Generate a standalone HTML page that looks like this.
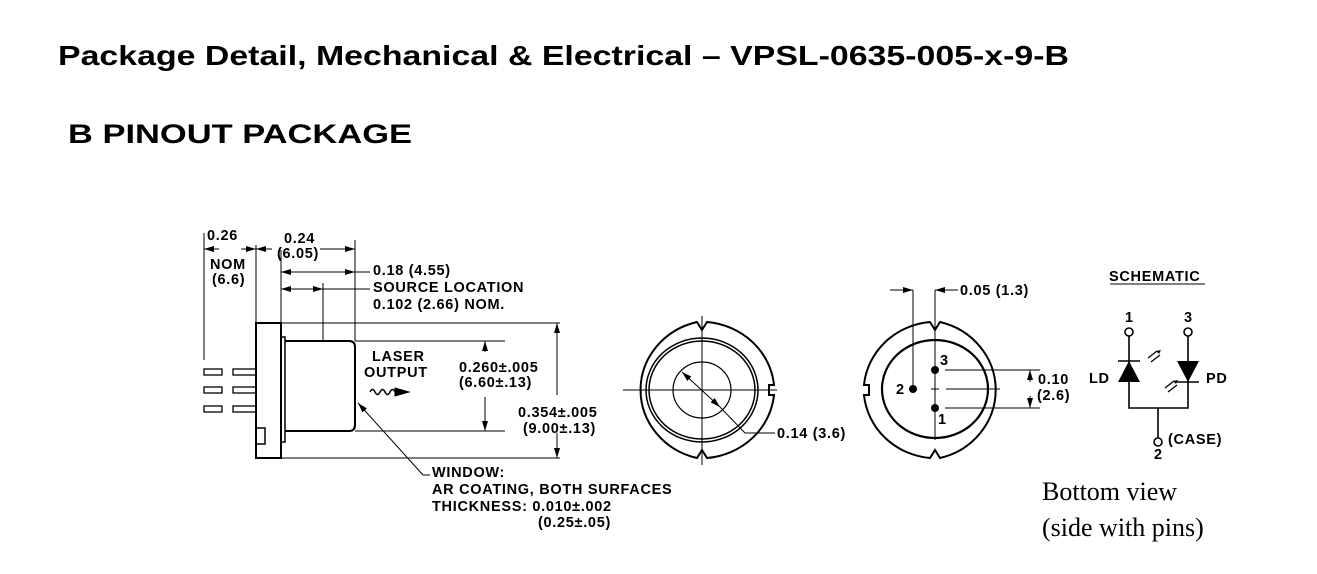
<!DOCTYPE html>
<html><head><meta charset="utf-8"><style>
html,body{margin:0;padding:0;background:#fff;}
svg{display:block;}
text{font-family:"Liberation Sans",Arial,sans-serif;font-weight:bold;fill:#000;}
</style></head><body>
<svg width="1317" height="574" viewBox="0 0 1317 574" xmlns="http://www.w3.org/2000/svg">
<defs>
<marker id="a" viewBox="0 0 10 6" refX="10" refY="3" markerWidth="10" markerHeight="6" orient="auto-start-reverse" markerUnits="userSpaceOnUse"><path d="M0,0 L10,3 L0,6 z" fill="#000"/></marker>
</defs>
<text x="58" y="65" font-size="28" textLength="1011" lengthAdjust="spacingAndGlyphs">Package Detail, Mechanical &amp; Electrical – VPSL-0635-005-x-9-B</text>
<text x="68" y="143" font-size="27" textLength="344" lengthAdjust="spacingAndGlyphs">B  PINOUT PACKAGE</text>

<g stroke="#000" fill="none" stroke-width="1">
<!-- side view -->
<rect x="256" y="323" width="25" height="135" stroke-width="2"/>
<rect x="281" y="337" width="4" height="105" stroke-width="1.5"/>
<path d="M285,341 H349 Q355,341 355,347 V425 Q355,431 349,431 H285" stroke-width="2"/>
<rect x="256" y="428" width="9" height="16" stroke-width="1.5"/>
<g stroke-width="1.3">
<rect x="204" y="369" width="18" height="6"/><rect x="233" y="369" width="23" height="6"/>
<rect x="204" y="387" width="18" height="6"/><rect x="233" y="387" width="23" height="6"/>
<rect x="204" y="406" width="18" height="6"/><rect x="233" y="406" width="23" height="6"/>
</g>
<path d="M204,233 V360 M256,245 V323 M281,250 V323 M323,283 V341 M355,240 V341"/>
<path d="M241,249 H256" marker-end="url(#a)"/>
<path d="M219,249 H204" marker-end="url(#a)"/>
<path d="M256,249 H272" marker-start="url(#a)"/>
<path d="M320,249 H355" marker-end="url(#a)"/>
<path d="M281,272 H355" marker-start="url(#a)" marker-end="url(#a)"/>
<path d="M355,272 H370"/>
<path d="M281,289 H323" marker-start="url(#a)" marker-end="url(#a)"/>
<path d="M323,289 H370"/>
<path d="M281,323 H560 M281,458 H560 M355,341 H505 M355,431 H505"/>
<path d="M557,395 V323" marker-end="url(#a)"/>
<path d="M557,433 V458" marker-end="url(#a)"/>
<path d="M485,352 V341" marker-end="url(#a)"/>
<path d="M485,397 V431" marker-end="url(#a)"/>
<path d="M423,475 L358,403" marker-end="url(#a)"/>
<path d="M423,475 H430"/>
<path d="M370,392 q2.5,-5 5,0 t5,0 t5,0 t5,0 t5,0" stroke-width="1.5"/>
<path d="M395,388 L409,392 L395,396 z" fill="#000"/>

<!-- end view 1 -->
<path d="M697,322 L702,330 L707,322 A74,70 0 0 1 774,385 H769 V395 H774 A74,70 0 0 1 707,458 L702,450 L697,458 A74,70 0 0 1 697,322 z" stroke-width="2"/>
<ellipse cx="702" cy="390" rx="56" ry="52" stroke-width="1.5"/>
<ellipse cx="702" cy="390" rx="53" ry="49" stroke-width="1.5"/>
<ellipse cx="702" cy="390" rx="29" ry="28" stroke-width="1.2"/>
<path d="M702,316 V465 M623,390 H777"/>
<path d="M682,372 L720,407" marker-start="url(#a)" marker-end="url(#a)"/>
<path d="M720,407 L745,433 H775"/>

<!-- end view 2 -->
<path d="M930,322 L935,330 L940,322 A73,70 0 0 1 940,458 L935,450 L930,458 A73,70 0 0 1 864,395 H869 V385 H864 A73,70 0 0 1 930,322 z" stroke-width="2"/>
<ellipse cx="935" cy="389" rx="53" ry="49" stroke-width="2.2"/>
<path d="M935,290 V440 M913,290 V389 M890,290 H913 M935,290 H958"/>
<path d="M895,290 H913" marker-end="url(#a)"/>
<path d="M955,290 H935" marker-end="url(#a)"/>
<path d="M945,370 H1040 M945,408 H1040 M946,389 H1000 M931,389 H939"/>
<path d="M1030,382 V370" marker-end="url(#a)"/>
<path d="M1030,396 V408" marker-end="url(#a)"/>

<!-- schematic -->
<g stroke-width="1.6">
<circle cx="1129" cy="332" r="4"/><circle cx="1188" cy="332" r="4"/><circle cx="1158" cy="442" r="4"/>
<path d="M1129,336 V408 H1188 V336 M1158,408 V438"/>
<path d="M1118,361 H1140 M1177,382 H1199"/>
</g>
<path d="M1148,358 l9,-7 M1151,362 l9,-7 M1165,388 l9,-7 M1168,392 l9,-7" stroke-width="1.3"/>
</g>
<g fill="#000">
<circle cx="935" cy="370" r="4"/><circle cx="935" cy="408" r="4"/><circle cx="913" cy="389" r="4"/>
<path d="M1129,361 L1118,382 H1140 z"/>
<path d="M1177,361 H1199 L1188,382 z"/>
<path d="M1161,350 l-5,1 3,3z M1178,380 l-5,1 3,3z"/>
</g>

<g font-size="14.5" letter-spacing="0.7">
<text x="207" y="240">0.26</text>
<text x="284" y="243">0.24</text>
<text x="277" y="258">(6.05)</text>
<text x="210" y="269">NOM</text>
<text x="212" y="284">(6.6)</text>
<text x="373" y="275">0.18 (4.55)</text>
<text x="373" y="292">SOURCE LOCATION</text>
<text x="373" y="309">0.102 (2.66) NOM.</text>
<text x="372" y="361">LASER</text>
<text x="364" y="377">OUTPUT</text>
<text x="459" y="372">0.260±.005</text>
<text x="459" y="387">(6.60±.13)</text>
<text x="518" y="417">0.354±.005</text>
<text x="523" y="433">(9.00±.13)</text>
<text x="432" y="477">WINDOW:</text>
<text x="432" y="494">AR COATING, BOTH SURFACES</text>
<text x="432" y="511">THICKNESS:  0.010±.002</text>
<text x="538" y="527">(0.25±.05)</text>
<text x="777" y="438">0.14 (3.6)</text>
<text x="960" y="295">0.05 (1.3)</text>
<text x="940" y="365">3</text>
<text x="896" y="394">2</text>
<text x="938" y="424">1</text>
<text x="1038" y="384">0.10</text>
<text x="1037" y="400">(2.6)</text>
<text x="1109" y="281">SCHEMATIC</text>
<text x="1125" y="322">1</text>
<text x="1184" y="322">3</text>
<text x="1089" y="383">LD</text>
<text x="1206" y="383">PD</text>
<text x="1168" y="444">(CASE)</text>
<text x="1154" y="459">2</text>
</g>
<path d="M1110,284 H1205" stroke="#000" stroke-width="1"/>
<text x="1042" y="500" font-size="26" style="font-family:'Liberation Serif',serif;font-weight:normal">Bottom view</text>
<text x="1042" y="536" font-size="26" style="font-family:'Liberation Serif',serif;font-weight:normal">(side with pins)</text>
</svg>
</body></html>
